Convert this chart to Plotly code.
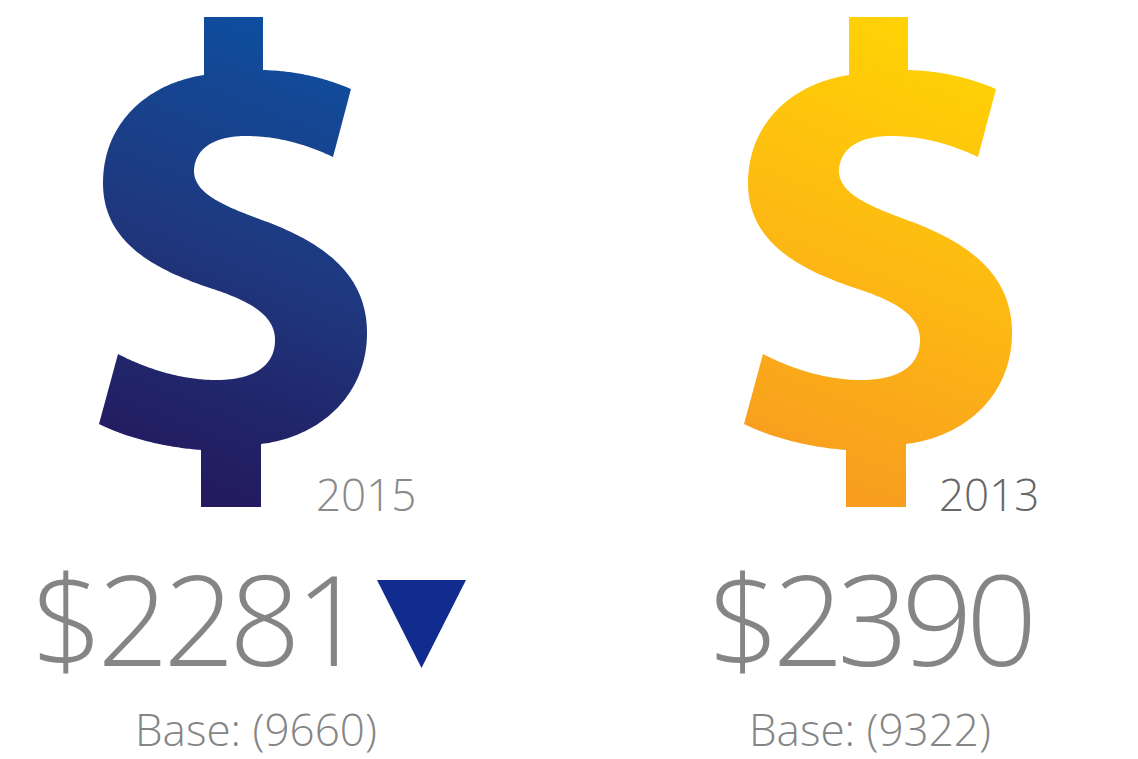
import numpy as np
import plotly.graph_objects as go

years = ["2015", "2013"]
spend = [2281, 2390]
bases = [9660, 9322]
glyph_offset = [0, 645]
gradient_stops = [
    [[0, "#0f4d9e"], [0.25, "#18428c"], [0.5, "#1f377e"], [0.75, "#21276c"], [1, "#231a60"]],
    [[0, "#ffd205"], [0.5, "#fdb913"], [1, "#f89d1f"]],
]
year_colors = ["#8a8a8a", "#666666"]
value_x = [196, 869]
value_tracking = ["-5.5px", "-7px"]
base_x = [256, 870]
year_x = [366, 989]
TEXT = "#858585"
FONT = "Open Sans"

# Decorative dollar-sign outline (artwork, not data): start point, then segments
START = (204, 17)
SEGMENTS = [
    [(263, 17)], [(263, 70)],
    [(297, 71), (325, 78), (351, 89)], [(333, 157)],
    [(310, 146), (280, 136), (246, 136)],
    [(212, 136), (195, 150), (194, 170)],
    [(193, 195), (230, 208), (262, 220)],
    [(325, 243), (367, 275), (367, 333)],
    [(367, 395), (320, 437), (261, 444)],
    [(261, 507)], [(201, 507)], [(201, 450)],
    [(162, 447), (125, 437), (99, 424)], [(118, 354)],
    [(145, 368), (180, 380), (216, 380)],
    [(255, 380), (275, 365), (275, 340)],
    [(275, 315), (250, 301), (210, 288)],
    [(150, 268), (103, 240), (103, 183)],
    [(103, 125), (145, 84), (204, 75)],
    [(204, 17)],
]


def outline():
    pts = [START]
    for seg in SEGMENTS:
        p0 = np.array(pts[-1], float)
        if len(seg) == 1:
            pts.append(seg[0])
        else:
            p1, p2, p3 = [np.array(p, float) for p in seg]
            for t in np.linspace(0, 1, 60)[1:]:
                q = (1-t)**3*p0 + 3*(1-t)**2*t*p1 + 3*(1-t)*t**2*p2 + t**3*p3
                pts.append((float(q[0]), float(q[1])))
    return np.array(pts)


fig = go.Figure()
shape = outline()
for off, stops in zip(glyph_offset, gradient_stops):
    fig.add_trace(go.Scatter(
        x=shape[:, 0] + off, y=shape[:, 1], mode="lines", fill="toself",
        line=dict(width=0, simplify=False), hoverinfo="skip", showlegend=False,
        fillgradient=dict(type="vertical", start=35, stop=490, colorscale=stops),
    ))

# Down-pointing change marker
fig.add_trace(go.Scatter(
    x=[377, 466, 421.5, 377], y=[580, 580, 668, 580], mode="lines", fill="toself",
    fillcolor="#122b8f", line=dict(width=0), hoverinfo="skip", showlegend=False,
))

for i in range(2):
    fig.add_annotation(x=year_x[i], y=494, text=years[i], showarrow=False,
                       font=dict(family=FONT, size=44, weight=300, color=year_colors[i]))
    fig.add_annotation(x=value_x[i], y=617, text=f"${spend[i]}", showarrow=False,
                       font=dict(family=FONT, size=125, weight=300, color=TEXT))
    fig.add_annotation(x=base_x[i], y=729, text=f"Base: ({bases[i]})", showarrow=False,
                       font=dict(family=FONT, size=44, weight=300, color=TEXT))

fig.update_layout(
    width=1138, height=759, margin=dict(l=0, r=0, t=0, b=0),
    paper_bgcolor="white", plot_bgcolor="white",
    xaxis=dict(range=[0, 1138], visible=False, fixedrange=True),
    yaxis=dict(range=[759, 0], visible=False, fixedrange=True),
    showlegend=False,
)
# Page margin off, tilt the glyph gradients, tighten the large figures
POST = """
document.body.style.margin='0';
var centres=[235,880], tracking=%s, n=0;
document.querySelectorAll('linearGradient').forEach(function(g,i){
  g.setAttribute('gradientTransform','rotate(22 '+centres[i%%2]+' 262)');
});
document.querySelectorAll('.annotation-text').forEach(function(t){
  if(parseFloat(t.style.fontSize)>100){t.style.letterSpacing=tracking[n++];}
});
""" % (str(value_tracking))
fig.write_html("out.html", config={"displayModeBar": False}, post_script=POST)
